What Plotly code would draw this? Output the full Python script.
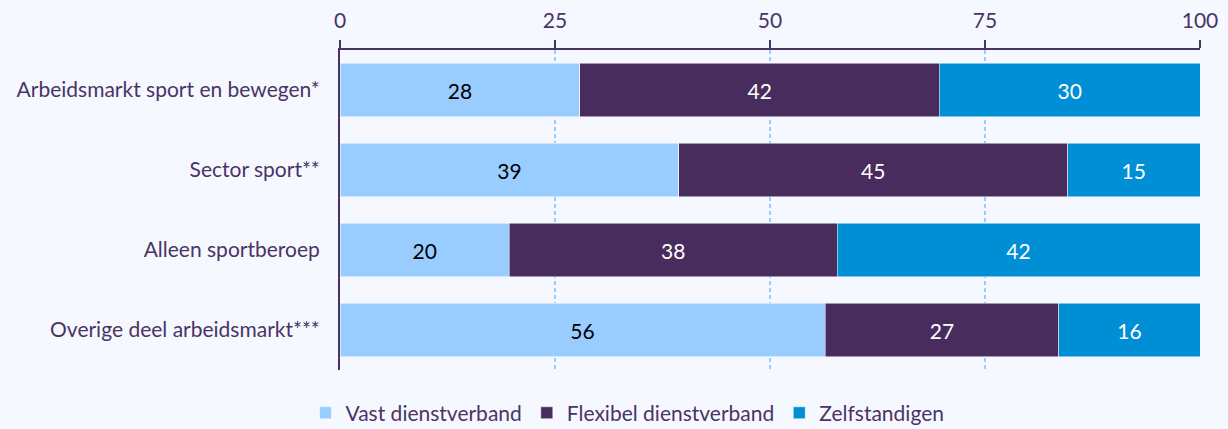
import plotly.graph_objects as go

categories = ["Arbeidsmarkt sport en bewegen*", "Sector sport**", "Alleen sportberoep", "Overige deel arbeidsmarkt***"]
series_names = ["Vast dienstverband", "Flexibel dienstverband", "Zelfstandigen"]
vast = [27.9, 39.4, 19.7, 56.4]
flexibel = [41.8, 45.2, 38.1, 27.2]
zelfstandigen = [30.3, 15.4, 42.2, 16.4]
colors = ["#99ccff", "#482c5e", "#008fd5"]
text_colors = ["#000000", "#ffffff", "#ffffff"]

fig = go.Figure()
for name, vals, col, tc in zip(series_names, [vast, flexibel, zelfstandigen], colors, text_colors):
    fig.add_trace(go.Bar(
        y=categories, x=vals, name=name, orientation="h",
        marker=dict(color=col, line=dict(color="#ffffff", width=0.5)),
        texttemplate="%{x:.0f}", textposition="inside", insidetextanchor="middle",
        textfont=dict(color=tc, size=21, family="Lato"),
        constraintext="none",
    ))

fig.update_layout(
    barmode="stack",
    bargap=0.335,
    width=1228, height=429,
    margin=dict(l=340, r=28, t=50, b=59, autoexpand=False),
    paper_bgcolor="#f5f8fe",
    plot_bgcolor="#f5f8fe",
    font=dict(family="Lato", size=21, color="#4a3466"),
    legend=dict(orientation="h", xref="container", x=0.511, xanchor="center",
                yref="container", y=0.037, yanchor="middle",
                font=dict(size=21, color="#4a3466"), itemwidth=30, traceorder="normal"),
    xaxis=dict(
        side="top", range=[0, 100], tickvals=[0, 25, 50, 75, 100],
        showgrid=True, gridcolor="#99ccff", griddash="4px,3px", gridwidth=1.5,
        showline=True, linecolor="#4a3466", linewidth=2,
        ticks="outside", ticklen=8, tickcolor="#4a3466", tickwidth=2,
        ticklabelstandoff=4,
        zeroline=False, tickfont=dict(size=21, color="#4a3466"),
    ),
    yaxis=dict(
        autorange="reversed", showline=True, linecolor="#4a3466", linewidth=2,
        ticks="", ticklabelstandoff=14, tickfont=dict(size=21, color="#4a3466"),
        showgrid=False,
    ),
)

fig.write_html("out.html", config={"displayModeBar": False},
               post_script="document.body.style.margin='0';")
